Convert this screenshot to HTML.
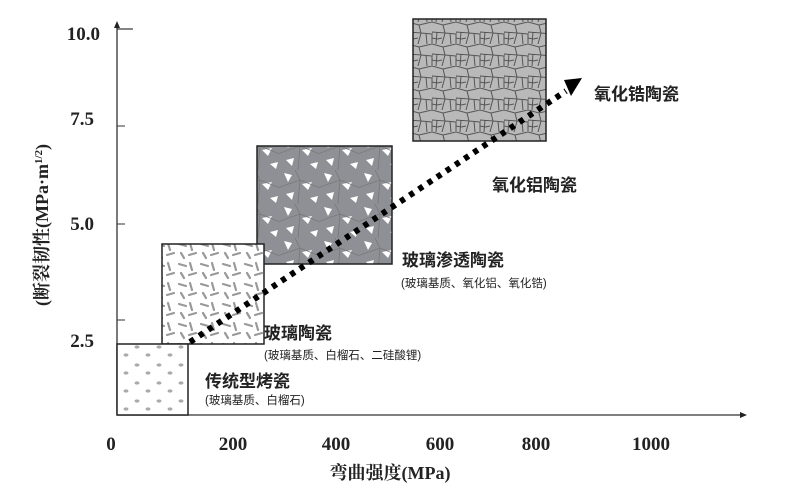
<!DOCTYPE html>
<html><head><meta charset="utf-8"><style>
html,body{margin:0;padding:0;background:#fff;}
svg{display:block;}
text{font-family:"Liberation Serif","Noto Serif CJK SC",serif;font-weight:bold;fill:#222;}
.c{font-family:"Liberation Sans","Noto Sans CJK SC",sans-serif;}
.n{font-weight:normal;}
</style></head><body>
<svg width="799" height="500" viewBox="0 0 799 500" xmlns="http://www.w3.org/2000/svg">
<defs>
<pattern id="cells" width="24" height="22" patternUnits="userSpaceOnUse">
<rect width="24" height="22" fill="#b9b9b9"/>
<path d="M0 0 L11 3 L24 0 M11 3 L13 11 L0 10 M13 11 L24 12 M13 11 L10 22 M0 10 L0 22 M24 12 L24 22 M5 10 L4 22 M18 11 L19 22 M0 16 L5 17 L10 16" stroke="#555" stroke-width="1" fill="none"/>
</pattern>
<pattern id="shards" width="40" height="34" patternUnits="userSpaceOnUse">
<rect width="40" height="34" fill="#8e9096"/>
<polygon points="4,3 12,5 8,12" fill="#fff"/>
<polygon points="22,14 32,12 28,20" fill="#fff"/>
<polygon points="6,24 14,22 12,30" fill="#fff"/>
<polygon points="30,28 38,26 36,33" fill="#fff"/>
<path d="M0 17 L20 10 L40 18 M15 0 L20 10 L18 34" stroke="#777" stroke-width="0.8" fill="none"/>
</pattern>
<pattern id="rods" width="22" height="20" patternUnits="userSpaceOnUse">
<rect width="22" height="20" fill="#fff"/>
<path d="M3 4 L10 6 M14 3 L16 10 M5 13 L8 18 M13 15 L20 13" stroke="#999" stroke-width="2.2" stroke-linecap="round"/>
</pattern>
<pattern id="dots" width="22" height="18" patternUnits="userSpaceOnUse">
<rect width="22" height="18" fill="#fff"/>
<ellipse cx="5" cy="5" rx="2.5" ry="1.6" fill="#aaa"/>
<ellipse cx="16" cy="13" rx="2.5" ry="1.6" fill="#aaa"/>
</pattern>
</defs>
<line x1="117" y1="24" x2="117" y2="415" stroke="#333" stroke-width="1.3"/>
<polygon points="114,28 120,28 117,21" fill="#222"/>
<line x1="117" y1="415" x2="742" y2="415" stroke="#333" stroke-width="1.3"/>
<polygon points="740,412 740,418 747,415" fill="#222"/>
<line x1="117" y1="29" x2="133" y2="29" stroke="#333" stroke-width="1.2"/>
<line x1="117" y1="126" x2="125" y2="126" stroke="#333"/>
<line x1="117" y1="224" x2="125" y2="224" stroke="#333"/>
<line x1="117" y1="320" x2="125" y2="320" stroke="#333"/>
<g font-size="19" text-anchor="end">
<text x="100" y="40">10.0</text>
<text x="94" y="125">7.5</text>
<text x="94" y="230">5.0</text>
<text x="94" y="347">2.5</text>
</g>
<g font-size="19" text-anchor="middle">
<text x="111" y="450">0</text>
<text x="233" y="450">200</text>
<text x="336" y="450">400</text>
<text x="440" y="450">600</text>
<text x="536" y="450">800</text>
<text x="651" y="450">1000</text>
</g>
<text x="390" y="479" font-size="18" text-anchor="middle">弯曲强度(MPa)</text>
<text transform="translate(48,225) rotate(-90)" font-size="18" text-anchor="middle">(断裂韧性(MPa·m<tspan font-size="11" dy="-6">1/2</tspan><tspan dy="6">)</tspan></text>
<rect x="413" y="19" width="133" height="122" fill="url(#cells)" stroke="#222" stroke-width="1.5"/>
<rect x="257" y="146" width="135" height="118" fill="url(#shards)" stroke="#222" stroke-width="1.5"/>
<rect x="162" y="244" width="102" height="100" fill="url(#rods)" stroke="#222" stroke-width="1.5"/>
<rect x="117" y="344" width="71" height="71" fill="url(#dots)" stroke="#222" stroke-width="1.5"/>
<line x1="190" y1="342" x2="566" y2="91" stroke="#000" stroke-width="6" stroke-dasharray="5 6"/>
<polygon points="564,80 582,78 571,96" fill="#000"/>
<text class="c" x="594" y="100" font-size="17">氧化锆陶瓷</text>
<text class="c" x="492" y="191" font-size="17">氧化铝陶瓷</text>
<text class="c" x="402" y="266" font-size="17">玻璃渗透陶瓷</text>
<text class="c n" x="401" y="287" font-size="11.5">(玻璃基质、氧化铝、氧化锆)</text>
<text class="c" x="264" y="339" font-size="17">玻璃陶瓷</text>
<text class="c n" x="264" y="359" font-size="11.5">(玻璃基质、白榴石、二硅酸锂)</text>
<text class="c" x="205" y="387" font-size="17">传统型烤瓷</text>
<text class="c n" x="205" y="404" font-size="11.5">(玻璃基质、白榴石)</text>
</svg>
</body></html>
